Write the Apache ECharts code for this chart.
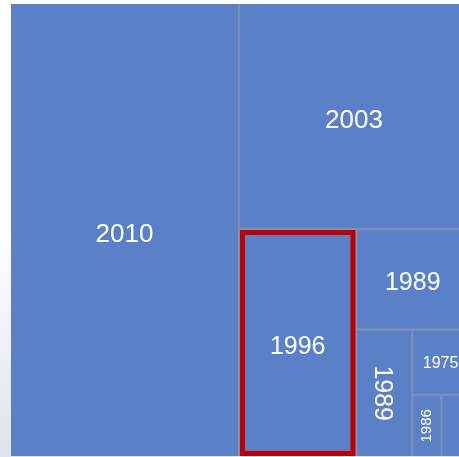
<!DOCTYPE html>
<html><head><meta charset="utf-8">
<script src="https://cdn.jsdelivr.net/npm/echarts@6/dist/echarts.min.js"></script>
<style>html,body{margin:0;padding:0;background:#fff}#c{width:459px;height:457px}</style>
</head><body><div id="c"></div>
<script>
// Data (relative sizes)
const years  = ['2010', '2003', '1996', '1989', '1989', '1975', '1986', ''];
const values = [1030.6, 542.3, 265.6, 124.0, 70.5, 44.5, 18.0, 24.5];
const topLevelCount = 4;          // first cells laid out at the top level
const highlightedYear = '1996';   // outlined in red

// label styles per cell (style only)
const labelStyles = [
  {fontSize: 26, offset: [0, 5]},
  {fontSize: 26, offset: [-6, 5]},
  {fontSize: 25, offset: [0, 4]},
  {fontSize: 25, offset: [-6, 4]},
  {fontSize: 25, rotate: -90, offset: [0, 2]},
  {fontSize: 16, offset: [-6, 2]},
  {fontSize: 15, rotate: 90},
  {show: false}
];

function leaf(i) {
  const item = {name: years[i], value: values[i], label: labelStyles[i]};
  if (years[i] === highlightedYear) item.itemStyle = {borderWidth: 5, borderColor: '#C00000'};
  return item;
}
function nest(i) {
  if (i === years.length - 1) return leaf(i);
  return {name: '', children: [leaf(i), nest(i + 1)]};
}
const data = [];
for (let i = 0; i < topLevelCount; i++) data.push(leaf(i));
data.push(nest(topLevelCount));

const chart = echarts.init(document.getElementById('c'), null, {renderer: 'canvas'});
chart.setOption({
  animation: false,
  backgroundColor: {type: 'linear', x: 0, y: 0, x2: 0, y2: 1,
    colorStops: [{offset: 0, color: '#ffffff'}, {offset: 0.5, color: '#ffffff'}, {offset: 1, color: '#dde2ec'}]},
  series: [{
    type: 'treemap',
    left: 11, top: 4, width: 469, height: 452,
    sort: false,
    squareRatio: 1.045,
    roam: false,
    nodeClick: false,
    breadcrumb: {show: false},
    itemStyle: {borderWidth: 0, gapWidth: 2, borderColor: '#8090B0'},
    levels: [{color: ['#5A80C8'], itemStyle: {borderColor: '#8090B0', gapWidth: 2}}],
    label: {show: true, position: 'inside', color: '#ffffff',
      fontFamily: 'Liberation Sans, Arial, sans-serif', fontSize: 25, overflow: 'none', padding: 0},
    upperLabel: {show: false},
    emphasis: {disabled: true},
    data: data
  }]
});
</script></body></html>
